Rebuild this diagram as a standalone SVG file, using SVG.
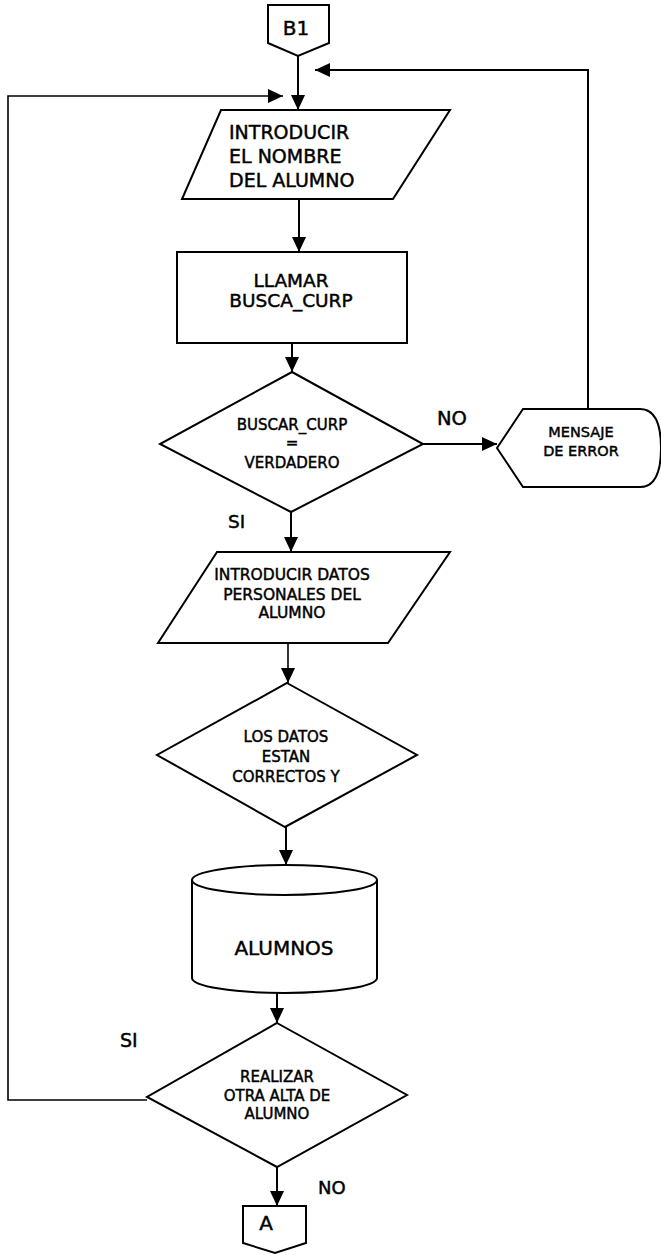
<svg xmlns="http://www.w3.org/2000/svg" width="661" height="1255" viewBox="0 0 661 1255">
  <style>
    .shape { fill: #fff; stroke: #000; stroke-width: 2; stroke-linejoin: miter; }
    .line { fill: none; stroke: #000; stroke-width: 2; }
    .thin { fill: none; stroke: #000; stroke-width: 1.6; }
    text { font-family: "DejaVu Sans", "Liberation Sans", sans-serif; fill: #000; stroke: #000; stroke-width: 0.45; }
    .c { text-anchor: middle; }
  </style>
  <defs>
    <marker id="arrow" viewBox="0 0 15 14" refX="15" refY="7" markerWidth="15" markerHeight="14" markerUnits="userSpaceOnUse" orient="auto">
      <path d="M0,0 L15,7 L0,14 Z" fill="#000"/>
    </marker>
  </defs>
  <rect width="661" height="1255" fill="#fff"/>

  <!-- connectors and their labels -->
  <g id="connectors">
    <line class="line" x1="298" y1="56" x2="298" y2="110" marker-end="url(#arrow)"/>
    <polyline class="line" points="588,409 588,70 315,70" marker-end="url(#arrow)"/>
    <polyline class="thin" points="147,1100 8,1100 8,96 283,96" marker-end="url(#arrow)"/>
    <line class="line" x1="299" y1="199" x2="299" y2="252" marker-end="url(#arrow)"/>
    <line class="line" x1="292" y1="343" x2="292" y2="372" marker-end="url(#arrow)"/>
    <line class="line" x1="423" y1="444" x2="497" y2="444" marker-end="url(#arrow)"/>
    <line class="line" x1="291" y1="512" x2="291" y2="552" marker-end="url(#arrow)"/>
    <line class="thin" x1="288" y1="643" x2="288" y2="683" marker-end="url(#arrow)"/>
    <line class="line" x1="286" y1="827" x2="286" y2="865" marker-end="url(#arrow)"/>
    <line class="line" x1="277" y1="993" x2="277" y2="1023" marker-end="url(#arrow)"/>
    <line class="line" x1="277" y1="1167" x2="277" y2="1206" marker-end="url(#arrow)"/>
    <text x="437" y="425" font-size="19.5">NO</text>
    <text x="228" y="528" font-size="18.5">SI</text>
    <text x="120" y="1047" font-size="19">SI</text>
    <text x="318" y="1194" font-size="18">NO</text>
  </g>

  <g id="b1">
    <path class="shape" d="M268,5 L329,5 L329,43 L298,56 L268,43 Z"/>
    <text class="c" x="296" y="35" font-size="20">B1</text>
  </g>

  <g id="input-nombre">
    <path class="shape" d="M221,110 L450,110 L393,199 L182,199 Z"/>
    <text x="229" y="139" font-size="19">INTRODUCIR</text>
    <text x="229" y="163" font-size="19">EL NOMBRE</text>
    <text x="229" y="187" font-size="19">DEL ALUMNO</text>
  </g>

  <g id="llamar">
    <rect class="shape" x="177" y="252" width="230" height="91"/>
    <text class="c" x="291" y="287" font-size="18.5">LLAMAR</text>
    <text class="c" x="291" y="307" font-size="18.5">BUSCA_CURP</text>
  </g>

  <g id="decision-curp">
    <path class="shape" d="M292,372 L423,444 L291,512 L160,444 Z"/>
    <text class="c" x="292" y="430" font-size="15">BUSCAR_CURP</text>
    <text class="c" x="292" y="448" font-size="15">=</text>
    <text class="c" x="292" y="468" font-size="15">VERDADERO</text>
  </g>

  <g id="mensaje-error">
    <path class="shape" d="M497,448 L523,409 L640,409 Q661,409 661,448 Q661,487 640,487 L523,487 Z"/>
    <text class="c" x="581" y="437" font-size="14.5">MENSAJE</text>
    <text class="c" x="581" y="456" font-size="14.5">DE ERROR</text>
  </g>

  <g id="input-datos">
    <path class="shape" d="M217,552 L450,552 L388,643 L158,643 Z"/>
    <text class="c" x="292" y="580" font-size="15.5">INTRODUCIR  DATOS</text>
    <text class="c" x="292" y="600" font-size="15.5">PERSONALES DEL</text>
    <text class="c" x="292" y="618" font-size="15.5">ALUMNO</text>
  </g>

  <g id="decision-datos">
    <path class="shape" d="M287,683 L417,755 L285,827 L157,755 Z"/>
    <text class="c" x="286" y="742" font-size="15">LOS DATOS</text>
    <text class="c" x="286" y="762" font-size="15">ESTAN</text>
    <text class="c" x="286" y="782" font-size="15">CORRECTOS Y</text>
  </g>

  <g id="alumnos">
    <path class="shape" d="M192,880 A92.5,15 0 0 1 377,880 L377,978 A92.5,15 0 0 1 192,978 Z"/>
    <path class="line" d="M192,880 A92.5,15 0 0 0 377,880"/>
    <text class="c" x="284" y="955" font-size="20">ALUMNOS</text>
  </g>

  <g id="decision-otra">
    <path class="shape" d="M277,1023 L407,1095 L277,1167 L147,1097 Z"/>
    <text class="c" x="277" y="1082" font-size="15">REALIZAR</text>
    <text class="c" x="277" y="1101" font-size="15">OTRA ALTA DE</text>
    <text class="c" x="277" y="1119" font-size="15">ALUMNO</text>
  </g>

  <g id="a">
    <path class="shape" d="M243,1206 L306,1206 L306,1243 L275,1253 L243,1243 Z"/>
    <text class="c" x="266" y="1230" font-size="20">A</text>
  </g>
</svg>
